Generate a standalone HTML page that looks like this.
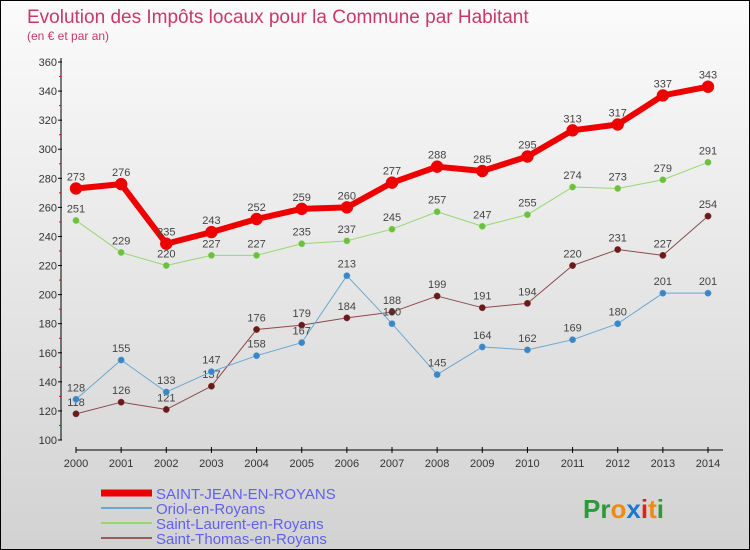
<!DOCTYPE html>
<html><head><meta charset="utf-8">
<style>
body{margin:0;}
#wrap{position:relative;width:748px;height:548px;border:1px solid #000;background:linear-gradient(#fbfbfb,#d2d2d2);overflow:hidden;font-family:"Liberation Sans",sans-serif;}
</style></head>
<body>
<div id="wrap">
<svg id="chart" width="748" height="548"></svg>
</div>
<script>
const years=["2000","2001","2002","2003","2004","2005","2006","2007","2008","2009","2010","2011","2012","2013","2014"];
const yTicks=[100,120,140,160,180,200,220,240,260,280,300,320,340,360];
const sjValues=[273,276,235,243,252,259,260,277,288,285,295,313,317,337,343];
const oriolValues=[128,155,133,147,158,167,213,180,145,164,162,169,180,201,201];
const laurentValues=[251,229,220,227,227,235,237,245,257,247,255,274,273,279,291];
const thomasValues=[118,126,121,137,176,179,184,188,199,191,194,220,231,227,254];
const seriesNames=["SAINT-JEAN-EN-ROYANS","Oriol-en-Royans","Saint-Laurent-en-Royans","Saint-Thomas-en-Royans"];

const NS="http://www.w3.org/2000/svg";
const svg=document.getElementById('chart');
const x0=75,x1=707,yMin=100,yMax=360,yB=439,yT=61;
function xs(i){return x0+(x1-x0)*i/(years.length-1);}
function ys(v){return yB-(v-yMin)*(yB-yT)/(yMax-yMin);}
function mk(tag,attrs,parent){const e=document.createElementNS(NS,tag);for(const k in attrs)e.setAttribute(k,attrs[k]);(parent||svg).appendChild(e);return e;}
function txt(s,attrs,parent){const e=mk('text',attrs,parent);e.textContent=s;return e;}

let t=txt("Evolution des Impôts locaux pour la Commune par Habitant",{x:26,y:22,'font-size':19,fill:'#c8386a'});


t=txt("(en € et par an)",{x:26,y:39,'font-size':12,fill:'#c8386a'});



// axes
let a=mk('line',{x1:60,y1:57,x2:60,y2:439,stroke:'#000'});


a=mk('line',{x1:x0,y1:449,x2:x1+15,y2:449,stroke:'#000'});


yTicks.forEach(v=>{
  mk('line',{x1:57,y1:ys(v),x2:61,y2:ys(v),stroke:'#000'});
  if(v<yMax) mk('line',{x1:58,y1:ys(v+10),x2:60,y2:ys(v+10),stroke:'#e00'});
  const l=txt(String(v),{x:56,y:ys(v)+4,'font-size':11,fill:'#333','text-anchor':'end'});
  
  
});
years.forEach((y,i)=>{
  mk('line',{x1:xs(i),y1:446,x2:xs(i),y2:452,stroke:'#000'});
  const l=txt(y,{x:xs(i),y:466,'font-size':11,fill:'#333','text-anchor':'middle'});
  
  
});

function series(vals,color,dot,width,r,name,labels){
  const g=mk('g',{});
  
  
  mk('polyline',{points:vals.map((v,i)=>xs(i)+','+ys(v)).join(' '),fill:'none',stroke:color,'stroke-width':width,'stroke-linejoin':'round'},g);
  vals.forEach((v,i)=>{
    const c=mk('circle',{cx:xs(i),cy:ys(v),r:r,fill:dot,stroke:color,'stroke-width':0.5},g);
    
    
    if(labels){
      const l=txt(String(v),{x:xs(i),y:ys(v)-8,'font-size':11,fill:'#444','text-anchor':'middle'},g);
      
      
    }
  });
}
series(thomasValues,'#8b4a4a','#6b1a1a',1,3.2,'series-saint-thomas',true);
series(oriolValues,'#6aa7d3','#3a86c8',1,3.2,'series-oriol',true);
series(laurentValues,'#96d870','#6cc040',1,3.2,'series-saint-laurent',true);
series(sjValues,'#ee0000','#ee0000',6,6,'series-saint-jean',true);

// legend
const leg=[['#ee0000',7],['#6aa7d3',2],['#96d870',2],['#9a5a5a',2]];
seriesNames.forEach((n,i)=>{
  const y=492+i*15;
  const g=mk('g',{});
  
  
  mk('line',{x1:100,y1:y,x2:151,y2:y,stroke:leg[i][0],'stroke-width':leg[i][1]},g);
  txt(n,{x:155,y:y+6,'font-size':15,fill:'#6060f0'},g);
});
// logo
const lg=txt("",{x:582,y:517,'font-size':26,'font-weight':'bold'});


[['P','#2a9a3a'],['r','#2a9a3a'],['o','#f08a10'],['x','#1a78d0'],['i','#e02020'],['t','#f08a10'],['i','#2a9a3a']].forEach(p=>{
  const s=document.createElementNS(NS,'tspan');s.setAttribute('fill',p[1]);s.textContent=p[0];lg.appendChild(s);
});
</script>
</body></html>
